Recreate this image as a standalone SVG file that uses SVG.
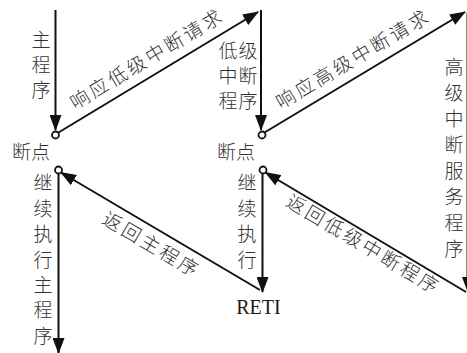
<svg xmlns="http://www.w3.org/2000/svg" width="467" height="353" viewBox="0 0 467 353">
<style>
.t{font-family:"Noto Sans CJK SC","Noto Sans CJK JP",sans-serif;font-size:19px;font-weight:300;fill:#333;text-anchor:middle}
.d{font-family:"Noto Sans CJK SC","Noto Sans CJK JP",sans-serif;font-size:19px;font-weight:300;fill:#333;text-anchor:middle;letter-spacing:3px}
.r{font-family:"Liberation Serif","Times New Roman",serif;font-size:20px;fill:#231815;text-anchor:middle}
.l{stroke:#111;stroke-width:2;fill:none}
.c{stroke:#111;stroke-width:1.8;fill:#fff}
</style>
<defs>
<marker id="ah" markerUnits="userSpaceOnUse" markerWidth="16" markerHeight="12" refX="15" refY="6" orient="auto" viewBox="0 0 16 12">
<path d="M0,0 L16,6 L0,12 z" fill="#111"/>
</marker>
</defs>
<g id="connectors">
<line class="l" x1="55.5" y1="10" x2="55.5" y2="130" marker-end="url(#ah)"/>
<line class="l" x1="261" y1="10" x2="261" y2="130" marker-end="url(#ah)"/>
<line class="l" x1="58.5" y1="132.5" x2="258" y2="12" marker-end="url(#ah)"/>
<line class="l" x1="264.5" y1="132.5" x2="465" y2="12" marker-end="url(#ah)"/>
<line x1="466.5" y1="13" x2="466.5" y2="278" stroke="#888" stroke-width="1"/>
<path d="M462,277 L468,293 L474,277 z" fill="#111"/>
<line class="l" x1="58.5" y1="173.5" x2="58.5" y2="353" marker-end="url(#ah)"/>
<line class="l" x1="262.5" y1="173.5" x2="262.5" y2="292" marker-end="url(#ah)"/>
<line class="l" x1="260" y1="290" x2="61" y2="172.5" marker-end="url(#ah)"/>
<line class="l" x1="466" y1="292" x2="265.5" y2="172.5" marker-end="url(#ah)"/>
</g>
<g id="bp1"><circle class="c" cx="55.5" cy="135" r="3.5"/></g>
<g id="bp2"><circle class="c" cx="262" cy="135" r="3.5"/></g>
<g id="bp3"><circle class="c" cx="58.5" cy="170" r="3.5"/></g>
<g id="bp4"><circle class="c" cx="263" cy="170" r="3.5"/></g>
<g id="labels">
<text class="t" x="41" y="47">主</text><text class="t" x="41" y="72">程</text><text class="t" x="41" y="97">序</text>
<text class="t" x="228" y="58">低</text><text class="t" x="248" y="58">级</text>
<text class="t" x="228" y="83">中</text><text class="t" x="248" y="83">断</text>
<text class="t" x="228" y="108">程</text><text class="t" x="248" y="108">序</text>
<text class="t" x="454" y="74">高</text><text class="t" x="454" y="100">级</text><text class="t" x="454" y="126">中</text><text class="t" x="454" y="152">断</text>
<text class="t" x="454" y="178">服</text><text class="t" x="454" y="204">务</text><text class="t" x="454" y="230">程</text><text class="t" x="454" y="256">序</text>
<text class="t" x="31" y="159">断点</text>
<text class="t" x="236" y="159">断点</text>
<text class="t" x="43" y="190">继</text><text class="t" x="43" y="216">续</text><text class="t" x="43" y="241">执</text><text class="t" x="43" y="267">行</text>
<text class="t" x="43" y="292">主</text><text class="t" x="43" y="317">程</text><text class="t" x="43" y="343">序</text>
<text class="t" x="247" y="190">继</text><text class="t" x="247" y="216">续</text><text class="t" x="247" y="241">执</text><text class="t" x="247" y="267">行</text>
<text class="r" x="258.5" y="314">RETI</text>
<text class="d" transform="translate(155,74.8) rotate(-31)" x="1.5" y="-11">响应低级中断请求</text>
<text class="d" transform="translate(361,74.9) rotate(-30.7)" x="1.5" y="-11">响应高级中断请求</text>
<text class="d" transform="translate(158.5,230) rotate(30.5)" x="1.5" y="23">返回主程序</text>
<text class="d" transform="translate(368,234) rotate(30.7)" x="1.5" y="18">返回低级中断程序</text>
</g>
</svg>
